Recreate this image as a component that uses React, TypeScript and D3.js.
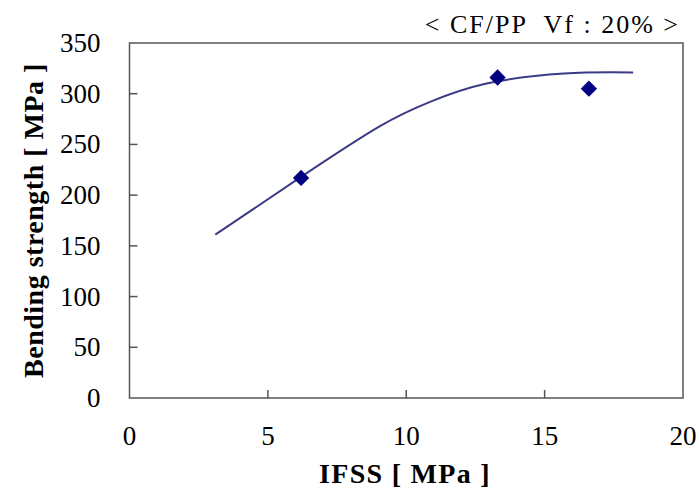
import React, { useEffect, useRef } from 'react';
import * as d3 from 'd3';

// measured points
const ifss = [6.2, 13.3, 16.6];
const strength = [217, 316, 305];

// fitted curve
const curveX = [3.1, 6.2, 9.05, 10.86, 12.9, 15.7, 18.2];
const curveY = [161, 218, 268, 292, 310, 320, 321];

const xTicks = [0, 5, 10, 15, 20];
const yTicks = [0, 50, 100, 150, 200, 250, 300, 350];

const App = () => {
    const ref = useRef<SVGSVGElement>(null);

    useEffect(() => {
        const width = 699;
        const height = 489;
        const margin = { top: 43, right: 16, bottom: 91, left: 129.5 };
        const font = 'Liberation Serif, DejaVu Serif, serif';

        const svg = d3.select(ref.current);
        svg.selectAll('*').remove();
        svg.attr('width', width).attr('height', height);

        const x = d3.scaleLinear().domain([0, 20]).range([margin.left, width - margin.right]);
        const y = d3.scaleLinear().domain([0, 350]).range([height - margin.bottom, margin.top]);

        const axisColor = '#555';

        // frame
        svg.append('rect')
            .attr('x', x(0))
            .attr('y', y(350))
            .attr('width', x(20) - x(0))
            .attr('height', y(0) - y(350))
            .attr('fill', 'none')
            .attr('stroke', axisColor)
            .attr('stroke-width', 1.5);

        // inward ticks
        svg.append('g')
            .selectAll('line')
            .data(xTicks.slice(1, -1))
            .enter()
            .append('line')
            .attr('x1', d => x(d))
            .attr('x2', d => x(d))
            .attr('y1', y(0))
            .attr('y2', y(0) - 8)
            .attr('stroke', axisColor)
            .attr('stroke-width', 1.5);

        svg.append('g')
            .selectAll('line')
            .data(yTicks.slice(1, -1))
            .enter()
            .append('line')
            .attr('x1', x(0))
            .attr('x2', x(0) + 8)
            .attr('y1', d => y(d))
            .attr('y2', d => y(d))
            .attr('stroke', axisColor)
            .attr('stroke-width', 1.5);

        // tick labels
        svg.append('g')
            .selectAll('text')
            .data(xTicks)
            .enter()
            .append('text')
            .attr('x', d => x(d))
            .attr('y', y(0) + 47)
            .attr('text-anchor', 'middle')
            .attr('font-family', font)
            .attr('font-size', 27)
            .text(d => d);

        svg.append('g')
            .selectAll('text')
            .data(yTicks)
            .enter()
            .append('text')
            .attr('x', x(0) - 29)
            .attr('y', d => y(d) + 9)
            .attr('text-anchor', 'end')
            .attr('font-family', font)
            .attr('font-size', 27)
            .text(d => d);

        // axis titles
        svg.append('text')
            .attr('x', 405)
            .attr('y', 483)
            .attr('text-anchor', 'middle')
            .attr('font-family', font)
            .attr('font-weight', 'bold')
            .attr('font-size', 28)
            .attr('letter-spacing', 1.3)
            .text('IFSS [ MPa ]');

        svg.append('text')
            .attr('transform', `translate(43, ${(y(0) + y(350)) / 2}) rotate(-90)`)
            .attr('text-anchor', 'middle')
            .attr('font-family', font)
            .attr('font-weight', 'bold')
            .attr('font-size', 28)
            .attr('letter-spacing', 0.5)
            .text('Bending strength [ MPa ]');

        svg.append('text')
            .attr('x', 680)
            .attr('y', 33)
            .attr('text-anchor', 'end')
            .attr('font-family', font)
            .attr('font-size', 26)
            .attr('letter-spacing', 2)
            .style('white-space', 'pre')
            .text('< CF/PP  Vf : 20% >');

        // trend curve
        const line = d3.line<number>()
            .x((_, i) => x(curveX[i]))
            .y(d => y(d))
            .curve(d3.curveNatural);

        svg.append('path')
            .datum(curveY)
            .attr('d', line)
            .attr('fill', 'none')
            .attr('stroke', '#3b3b85')
            .attr('stroke-width', 2);

        // diamonds
        const diamond = d3.symbol().type(d3.symbolDiamond2).size(170);
        svg.append('g')
            .selectAll('path')
            .data(strength)
            .enter()
            .append('path')
            .attr('d', diamond)
            .attr('transform', (d, i) => `translate(${x(ifss[i])}, ${y(d)})`)
            .attr('fill', '#000080');
    }, []);

    return (
        <svg ref={ref} style={{ position: 'absolute', left: 0, top: 0, background: '#fff' }} />
    );
};

export default App;
